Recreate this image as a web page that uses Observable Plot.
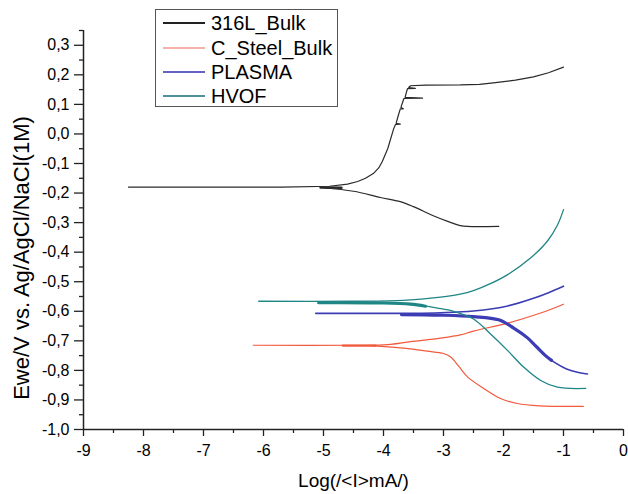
<!DOCTYPE html>
<html><head><meta charset="utf-8">
<script src="https://cdn.jsdelivr.net/npm/d3@7"></script>
<script src="https://cdn.jsdelivr.net/npm/@observablehq/plot@0.6"></script>
<style>
body{margin:0;background:#fff;}
#wrap{position:relative;width:628px;height:494px;font-family:"Liberation Sans",Arial,sans-serif;}
#legend{position:absolute;left:155px;top:9px;width:183px;height:98px;border:1px solid #555;background:#fff;box-sizing:border-box;}
.item{position:absolute;left:0;height:24px;width:180px;}
.sw{position:absolute;left:7px;top:11px;width:42px;height:2px;}
.lb{position:absolute;left:55px;top:0;line-height:24px;font-size:20px;color:#000;white-space:nowrap;}
</style></head>
<body><div id="wrap"></div>
<script>
const seriesNames = ["316L_Bulk","C_Steel_Bulk","PLASMA","HVOF"];
const lineColors = ["#2a2a2a","#f25a3c","#3c3cb4","#1f8585"];
const legendColors = ["#222222","#f5b0aa","#6464c8","#4f909c"];

const xMajor = [-9,-8,-7,-6,-5,-4,-3,-2,-1,0];
const xMinor = [-8.5,-7.5,-6.5,-5.5,-4.5,-3.5,-2.5,-1.5,-0.5];
const yMajor = [-1.0,-0.9,-0.8,-0.7,-0.6,-0.5,-0.4,-0.3,-0.2,-0.1,0.0,0.1,0.2,0.3];
const yMinor = [-0.95,-0.85,-0.75,-0.65,-0.55,-0.45,-0.35,-0.25,-0.15,-0.05,0.05,0.15,0.25,0.35];
const xTitle = "Log(/<I>mA/)";
const yTitle = "Ewe/V vs. Ag/AgCl/NaCl(1M)";

// 316L_Bulk
const s316Anodic = [[-8.25,-0.180],[-5.7,-0.180],[-4.9,-0.177],[-4.6,-0.170],[-4.43,-0.161],[-4.3,-0.150],[-4.17,-0.134],[-4.08,-0.115],[-4.02,-0.093],[-3.93,-0.05],[-3.83,0.018],[-3.8,0.032],[-3.72,0.033],[-3.79,0.036],[-3.75,0.065],[-3.72,0.085],[-3.67,0.085],[-3.71,0.09],[-3.66,0.12],[-3.35,0.121],[-3.64,0.124],[-3.62,0.14],[-3.6,0.153],[-3.47,0.154],[-3.58,0.157],[-3.55,0.163],[-3.3,0.165],[-2.72,0.166],[-2.4,0.168],[-2.17,0.173],[-1.8,0.182],[-1.5,0.193],[-1.25,0.207],[-1.0,0.226]];
const s316Cathodic = [[-5.0,-0.182],[-4.5,-0.194],[-4.05,-0.215],[-3.72,-0.229],[-3.5,-0.246],[-3.17,-0.277],[-2.93,-0.296],[-2.72,-0.310],[-2.6,-0.313],[-2.08,-0.313]];
const s316Band = [[-5.05,-0.181],[-4.7,-0.182]];
// C_Steel_Bulk
const steelAnodic = [[-6.17,-0.715],[-4.5,-0.715],[-3.93,-0.713],[-3.55,-0.703],[-3.05,-0.691],[-2.72,-0.680],[-2.5,-0.667],[-1.93,-0.640],[-1.38,-0.606],[-1.0,-0.576]];
const steelCathodic = [[-4.2,-0.716],[-3.72,-0.724],[-3.27,-0.735],[-3.0,-0.743],[-2.88,-0.755],[-2.75,-0.785],[-2.6,-0.822],[-2.33,-0.861],[-2.05,-0.895],[-1.77,-0.912],[-1.4,-0.920],[-0.67,-0.922]];
const steelBand = [[-4.68,-0.716],[-4.13,-0.716]];
// PLASMA
const plasmaAnodic = [[-5.13,-0.607],[-4.0,-0.607],[-3.5,-0.607],[-3.05,-0.605],[-2.5,-0.599],[-1.93,-0.582],[-1.5,-0.556],[-1.25,-0.537],[-1.0,-0.515]];
const plasmaCathodic = [[-3.7,-0.610],[-3.05,-0.612],[-2.5,-0.618],[-2.08,-0.629],[-1.83,-0.657],[-1.6,-0.690],[-1.45,-0.720],[-1.3,-0.750],[-1.15,-0.773],[-0.95,-0.795],[-0.75,-0.807],[-0.6,-0.812]];
const plasmaBand = [[-3.7,-0.611],[-3.05,-0.613],[-2.5,-0.618],[-2.08,-0.629],[-1.83,-0.657],[-1.6,-0.690],[-1.45,-0.720],[-1.3,-0.750],[-1.2,-0.766]];
// HVOF
const hvofAnodic = [[-6.08,-0.566],[-4.5,-0.566],[-3.67,-0.563],[-3.05,-0.552],[-2.72,-0.542],[-2.5,-0.530],[-2.2,-0.505],[-1.93,-0.476],[-1.55,-0.420],[-1.27,-0.363],[-1.1,-0.308],[-1.0,-0.256]];
const hvofCathodic = [[-5.08,-0.570],[-4.0,-0.572],[-3.55,-0.576],[-3.1,-0.589],[-2.83,-0.600],[-2.5,-0.626],[-2.22,-0.676],[-1.93,-0.733],[-1.67,-0.788],[-1.38,-0.834],[-1.1,-0.857],[-0.63,-0.861]];
const hvofBand = [[-5.08,-0.571],[-4.0,-0.572],[-3.55,-0.576],[-3.3,-0.583]];

const branches = [
  {data:s316Anodic, s:0, w:1.2, c:"linear"}, {data:s316Cathodic, s:0, w:1.2, c:"catmull-rom"}, {data:s316Band, s:0, w:2.4, c:"linear"},
  {data:steelAnodic, s:1, w:1.2, c:"catmull-rom"}, {data:steelCathodic, s:1, w:1.2, c:"catmull-rom"}, {data:steelBand, s:1, w:2.2, c:"linear"},
  {data:plasmaAnodic, s:2, w:1.6, c:"catmull-rom"}, {data:plasmaCathodic, s:2, w:1.6, c:"catmull-rom"}, {data:plasmaBand, s:2, w:3.2, c:"catmull-rom"},
  {data:hvofAnodic, s:3, w:1.3, c:"catmull-rom"}, {data:hvofCathodic, s:3, w:1.3, c:"catmull-rom"}, {data:hvofBand, s:3, w:3.2, c:"catmull-rom"}
];

const fmtY = d => d.toFixed(1).replace(".", ",");

const plot = Plot.plot({
  width: 628, height: 494,
  marginLeft: 83, marginRight: 5, marginTop: 30, marginBottom: 65,
  x: {domain: [-9, 0]},
  y: {domain: [-1, 0.35]},
  style: {fontFamily: '"Liberation Sans", Arial, sans-serif', fontSize: "16px", color: "#000", background: "#fff"},
  marks: [
    ...branches.map(b => Plot.line(b.data, {x: d => d[0], y: d => d[1], stroke: lineColors[b.s], strokeWidth: b.w, curve: b.c})),
    Plot.axisY(yMajor, {tickSize: 9, tickPadding: 5, tickFormat: fmtY, fontSize: 16, label: null, stroke: "#222", strokeWidth: 1.3}),
    Plot.axisY(yMinor, {tickSize: 4, tickFormat: () => "", label: null, stroke: "#222", strokeWidth: 1.3}),
    Plot.axisX(xMajor, {tickSize: 7, tickPadding: 8, tickFormat: d => String(d), fontSize: 16, label: null, stroke: "#222", strokeWidth: 1.3}),
    Plot.axisX(xMinor, {tickSize: 4, tickFormat: () => "", label: null, stroke: "#222", strokeWidth: 1.3}),
    Plot.ruleX([-9], {stroke: "#222", strokeWidth: 1.5}),
    Plot.ruleY([-1], {stroke: "#222", strokeWidth: 1.5}),
    Plot.text([xTitle], {text: d => d, frameAnchor: "bottom", dy: 51.6, fontSize: 19, lineAnchor: "middle", fill: "#000"}),
    Plot.text([yTitle], {text: d => d, frameAnchor: "left", textAnchor: "middle", rotate: -90, dx: -62, dy: 28, fontSize: 22, lineAnchor: "middle", fill: "#000"})
  ]
});
const wrap = document.getElementById("wrap");
wrap.appendChild(plot);

const legend = document.createElement("div");
legend.id = "legend";
const centers = [22.7, 47.7, 71.7, 95.7];
seriesNames.forEach((name, i) => {
  const it = document.createElement("div");
  it.className = "item";
  it.style.top = (centers[i] - 12 - 10) + "px";
  const sw = document.createElement("div");
  sw.className = "sw";
  sw.style.background = legendColors[i];
  const lb = document.createElement("div");
  lb.className = "lb";
  lb.textContent = name;
  it.appendChild(sw); it.appendChild(lb);
  legend.appendChild(it);
});
wrap.appendChild(legend);
</script>
</body></html>
